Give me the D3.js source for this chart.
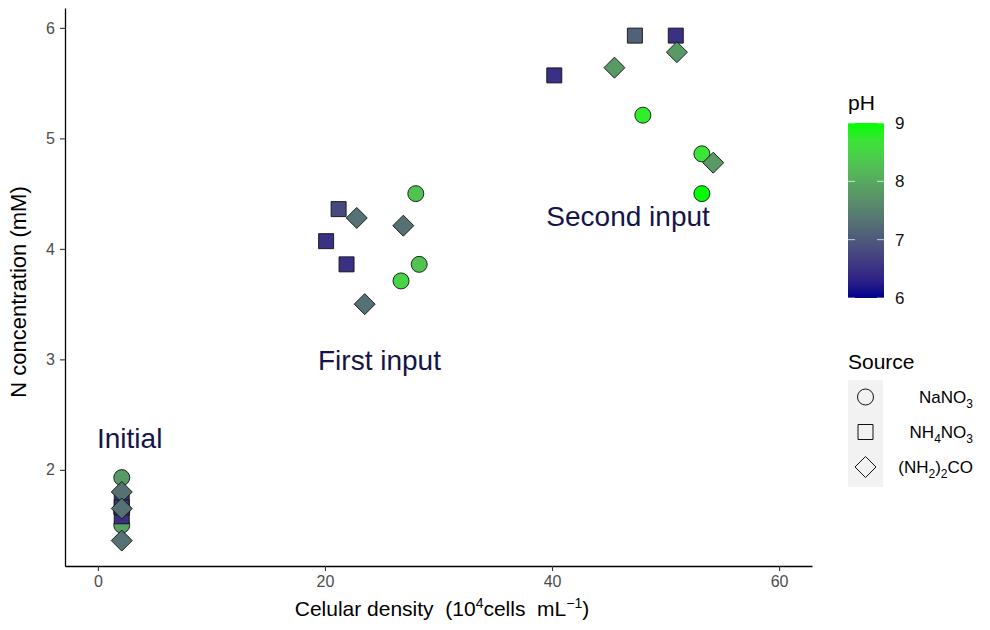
<!DOCTYPE html>
<html>
<head>
<meta charset="utf-8">
<script src="https://cdn.jsdelivr.net/npm/d3@7"></script>
<style>
body { margin: 0; background: #fff; }
text { font-family: "Liberation Sans", Arial, sans-serif; white-space: pre; }
</style>
</head>
<body>
<div id="chart"></div>
<script>
// data
var sources = ["NaNO3", "NH4NO3", "(NH2)2CO"];
var density = [2.1, 2.1, 2.1, 2.1, 2.1, 2.1, 2.1, 2.1, 2.1,
  28.0, 28.3, 26.7, 21.2, 20.1, 21.9, 22.8, 26.9, 23.5,
  48.0, 53.2, 53.2, 40.2, 47.3, 50.9, 45.5, 51.0, 54.2];
var nconc = [1.93, 1.50, 1.62, 1.73, 1.58, 1.66, 1.80, 1.65, 1.36,
  4.50, 3.86, 3.71, 4.36, 4.07, 3.86, 4.28, 4.21, 3.50,
  5.21, 4.86, 4.50, 5.57, 5.93, 5.93, 5.64, 5.78, 4.78];
var source = [0, 0, 0, 1, 1, 1, 2, 2, 2,
  0, 0, 0, 1, 1, 1, 2, 2, 2,
  0, 0, 0, 1, 1, 1, 2, 2, 2];
var ph = [7.8, 7.9, 7.8, 6.5, 6.5, 6.6, 7.3, 7.3, 7.3,
  8.3, 8.3, 8.5, 6.8, 6.5, 6.5, 7.3, 7.3, 7.3,
  8.8, 8.7, 9.0, 6.5, 7.1, 6.5, 7.8, 7.8, 7.8];
var labels = [{t: "Initial", x: 2.8, y: 2.2}, {t: "First input", x: 24.8, y: 2.905}, {t: "Second input", x: 46.7, y: 4.21}];
var xTicks = [0, 20, 40, 60];
var yTicks = [2, 3, 4, 5, 6];
var phTicks = [6, 7, 8, 9];

var width = 990, height = 630;
var m = {left: 65, right: 178, top: 8, bottom: 64};

var svg = d3.select("#chart").append("svg").attr("width", width).attr("height", height);

var x = d3.scaleLinear().domain([-2.9, 62.9]).range([m.left, width - m.right]);
var y = d3.scaleLinear().domain([1.13, 6.18]).range([height - m.bottom, m.top]);
var colour = d3.scaleLinear().domain([6, 9]).range(["#00008B", "#00FF00"]).interpolate(d3.interpolateLab);

var pts = density.map(function(d, i) {
  return {x: d, y: nconc[i], s: source[i], ph: ph[i]};
});

function shapePath(s, cx, cy) {
  if (s == 0) {
    var r = 8;
    return "M" + (cx - r) + "," + cy + "a" + r + "," + r + " 0 1,0 " + (2 * r) + ",0a" + r + "," + r + " 0 1,0 " + (-2 * r) + ",0Z";
  }
  if (s == 1) {
    var h = 7.5;
    return "M" + (cx - h) + "," + (cy - h) + "h" + 2 * h + "v" + 2 * h + "h" + (-2 * h) + "Z";
  }
  var d = 10.5;
  return "M" + cx + "," + (cy - d) + "L" + (cx + d) + "," + cy + "L" + cx + "," + (cy + d) + "L" + (cx - d) + "," + cy + "Z";
}

// axes
var xAxis = svg.append("g").attr("transform", "translate(0," + (height - m.bottom) + ")")
  .call(d3.axisBottom(x).tickValues(xTicks).tickFormat(d3.format("d")).tickSizeInner(5).tickSizeOuter(0).tickPadding(5));
var yAxis = svg.append("g").attr("transform", "translate(" + m.left + ",0)")
  .call(d3.axisLeft(y).tickValues(yTicks).tickFormat(d3.format("d")).tickSizeInner(5).tickSizeOuter(0).tickPadding(5));
[xAxis, yAxis].forEach(function(a) {
  a.attr("font-size", 16).attr("font-family", "Liberation Sans, Arial, sans-serif");
  a.select(".domain").attr("stroke", "#000").attr("stroke-width", 1.3);
  a.selectAll(".tick line").attr("stroke", "#333").attr("stroke-width", 1.1);
  a.selectAll(".tick text").attr("fill", "#4d4d4d").attr("font-size", 16);
});

// axis titles
var xt = svg.append("text").attr("x", 442).attr("y", 616).attr("text-anchor", "middle")
  .style("font-size", "21px").attr("fill", "#000");
xt.append("tspan").text("Celular density  (10");
xt.append("tspan").attr("dy", -8).style("font-size", "14px").text("4");
xt.append("tspan").attr("dy", 8).text("cells  mL");
xt.append("tspan").attr("dy", -8).style("font-size", "14px").text("\u22121");
xt.append("tspan").attr("dy", 8).text(")");

svg.append("text").attr("transform", "translate(26," + 292 + ") rotate(-90)")
  .attr("text-anchor", "middle").style("font-size", "22px").text("N concentration (mM)");

// points
svg.append("g").selectAll("path").data(pts).enter().append("path")
  .attr("d", function(d) { return shapePath(d.s, x(d.x), y(d.y)); })
  .attr("fill", function(d) { return colour(d.ph); })
  .attr("stroke", "#111").attr("stroke-width", 0.9);

// annotations
svg.append("g").selectAll("text").data(labels).enter().append("text")
  .attr("x", function(d) { return x(d.x); })
  .attr("y", function(d) { return y(d.y); })
  .attr("text-anchor", "middle").attr("fill", "#14144a")
  .style("font-size", "28px").text(function(d) { return d.t; });

// pH colour bar
var defs = svg.append("defs");
var grad = defs.append("linearGradient").attr("id", "phgrad").attr("x1", 0).attr("y1", 1).attr("x2", 0).attr("y2", 0);
d3.range(0, 1.01, 0.1).forEach(function(t) {
  grad.append("stop").attr("offset", t).attr("stop-color", colour(6 + 3 * t));
});
var barX = 848, barW = 36;
var barY = d3.scaleLinear().domain([6, 9]).range([298, 123]);
svg.append("text").attr("x", barX).attr("y", 110).style("font-size", "21px").text("pH");
svg.append("rect").attr("x", barX).attr("y", barY(9)).attr("width", barW).attr("height", barY(6) - barY(9))
  .attr("fill", "url(#phgrad)");
phTicks.forEach(function(t) {
  svg.append("line").attr("x1", barX).attr("x2", barX + 7).attr("y1", barY(t)).attr("y2", barY(t)).attr("stroke", "#fff").attr("stroke-opacity", 0.7);
  svg.append("line").attr("x1", barX + barW - 7).attr("x2", barX + barW).attr("y1", barY(t)).attr("y2", barY(t)).attr("stroke", "#fff").attr("stroke-opacity", 0.7);
  svg.append("text").attr("x", barX + barW + 11).attr("y", barY(t) + 6).style("font-size", "17px").attr("fill", "#111").text(t);
});

// Source legend
svg.append("text").attr("x", barX).attr("y", 369).style("font-size", "21px").text("Source");
svg.append("rect").attr("x", barX).attr("y", 380).attr("width", 35).attr("height", 107).attr("fill", "#f2f2f2");
var keyY = [397, 432, 467];
sources.forEach(function(s, i) {
  svg.append("path").attr("d", shapePath(i, barX + 17.5, keyY[i]))
    .attr("fill", "none").attr("stroke", "#111").attr("stroke-width", 1);
});
var lab = svg.append("g");
function sub(el, parts) {
  parts.forEach(function(p) {
    if (p.sub) el.append("tspan").attr("dy", 5).style("font-size", "12px").text(p.t);
    else el.append("tspan").attr("dy", p.back ? -5 : 0).text(p.t);
  });
}
var t0 = lab.append("text").attr("x", 973).attr("y", keyY[0] + 6).attr("text-anchor", "end").style("font-size", "17px");
sub(t0, [{t: "NaNO"}, {t: "3", sub: true}]);
var t1 = lab.append("text").attr("x", 973).attr("y", keyY[1] + 6).attr("text-anchor", "end").style("font-size", "17px");
sub(t1, [{t: "NH"}, {t: "4", sub: true}, {t: "NO", back: true}, {t: "3", sub: true}]);
var t2 = lab.append("text").attr("x", 973).attr("y", keyY[2] + 6).attr("text-anchor", "end").style("font-size", "17px");
sub(t2, [{t: "(NH"}, {t: "2", sub: true}, {t: ")", back: true}, {t: "2", sub: true}, {t: "CO", back: true}]);
</script>
</body>
</html>
